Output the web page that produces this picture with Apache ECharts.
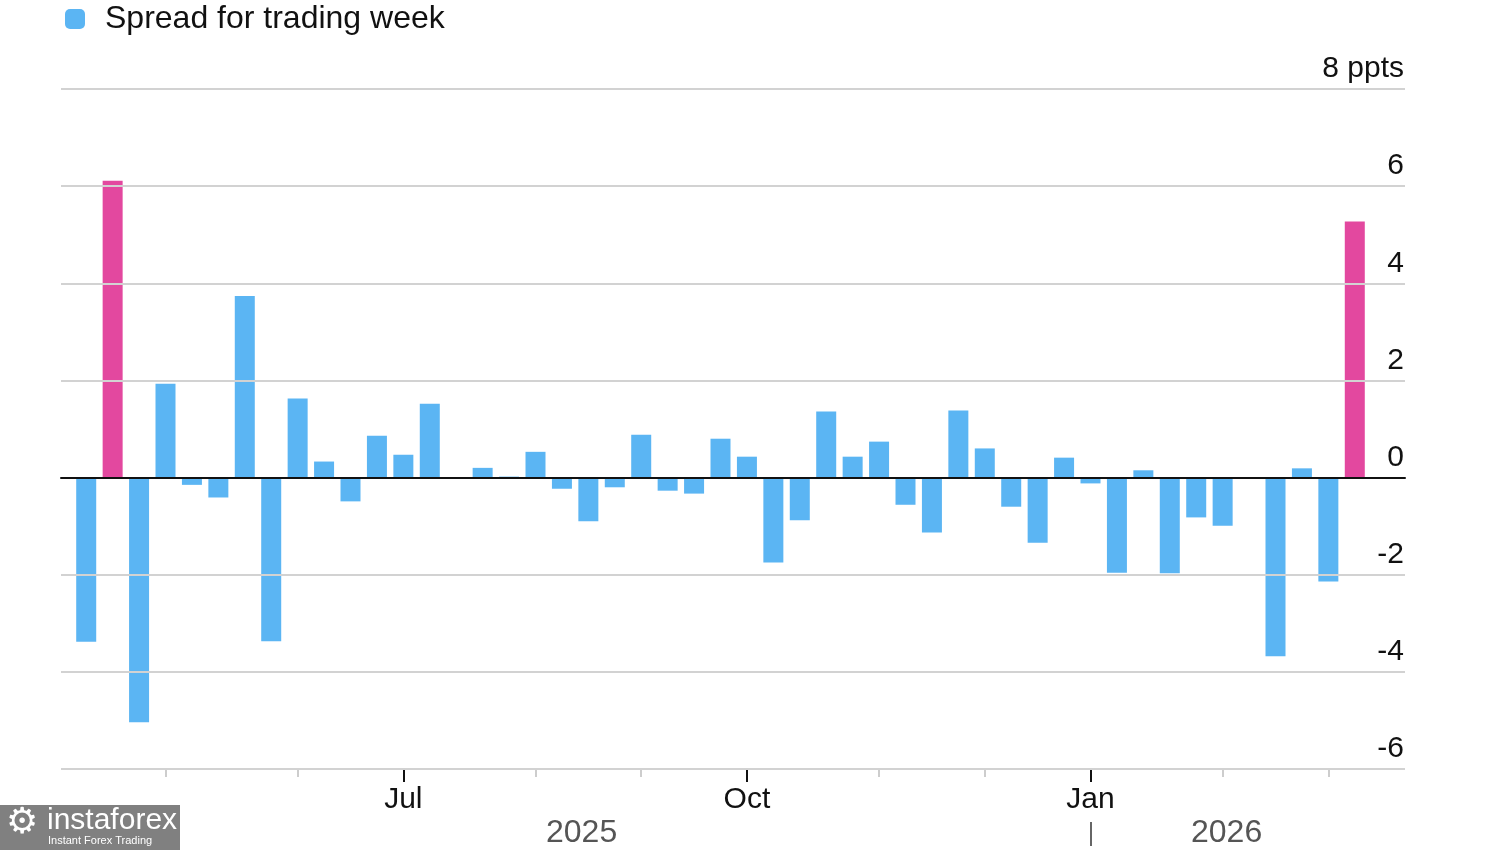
<!DOCTYPE html>
<html>
<head>
<meta charset="utf-8">
<script src="https://cdn.jsdelivr.net/npm/echarts@6/dist/echarts.min.js"></script>
<style>
html,body{margin:0;padding:0;background:#fff;}
#chart{width:1500px;height:850px;}
</style>
</head>
<body>
<div id="chart"></div>
<script>
// ---- data ----
var weeks = [
  "2025-04-11","2025-04-18","2025-04-25","2025-05-02","2025-05-09","2025-05-16","2025-05-23","2025-05-30",
  "2025-06-06","2025-06-13","2025-06-20","2025-06-27","2025-07-04","2025-07-11","2025-07-18","2025-07-25",
  "2025-08-01","2025-08-08","2025-08-15","2025-08-22","2025-08-29","2025-09-05","2025-09-12","2025-09-19",
  "2025-09-26","2025-10-03","2025-10-10","2025-10-17","2025-10-24","2025-10-31","2025-11-07","2025-11-14",
  "2025-11-21","2025-11-28","2025-12-05","2025-12-12","2025-12-19","2025-12-26","2026-01-02","2026-01-09",
  "2026-01-16","2026-01-23","2026-01-30","2026-02-06","2026-02-13","2026-02-20","2026-02-27","2026-03-06",
  "2026-03-13"
];
var spread = [
  -3.38, 6.11, -5.04, 1.93, -0.15, -0.41, 3.74, -3.37,
  1.63, 0.33, -0.49, 0.86, 0.47, 1.52, -0.03, 0.20,
  0.02, 0.53, -0.23, -0.90, -0.20, 0.88, -0.27, -0.33,
  0.80, 0.43, -1.75, -0.88, 1.36, 0.43, 0.74, -0.56,
  -1.13, 1.38, 0.60, -0.60, -1.34, 0.41, -0.12, -1.96,
  0.15, -1.97, -0.82, -0.99, -0.01, -3.68, 0.19, -2.14,
  5.27
];
var highlighted = [1, 48];
var monthTickIdx = [3, 8, 12, 17, 21, 25, 30, 34, 38, 43, 47];
var majorTickIdx = [12, 25, 38];
var majorTickLabels = ["Jul", "Oct", "Jan"];
var yearLabels = ["2025", "2026"];
var yTicks = [-6, -4, -2, 0, 2, 4, 6, 8];
var seriesName = "Spread for trading week";

// ---- chart ----
var FONT = "Liberation Sans, Arial, Helvetica, sans-serif";
var BLUE = "#5bb5f3";
var PINK = "#e3489f";
var Y_MIN = yTicks[0], Y_MAX = yTicks[yTicks.length - 1];

var barData = spread.map(function (v, i) {
  return highlighted.indexOf(i) >= 0 ? { value: v, itemStyle: { color: PINK } } : v;
});

var chart = echarts.init(document.getElementById("chart"), null, { renderer: "canvas" });

var option = {
  animation: false,
  backgroundColor: "#fff",
  textStyle: { fontFamily: FONT },
  legend: {
    show: true,
    left: 60,
    top: -2,
    icon: "roundRect",
    itemWidth: 20,
    itemHeight: 20,
    data: [{ name: seriesName, itemStyle: { color: BLUE } }],
    textStyle: { fontFamily: FONT, fontSize: 32, color: "#111", padding: [0, 0, 0, 15] }
  },
  grid: [
    // grid 0: full-width frame for gridlines, y labels and zero line
    { left: 61, right: 95, top: 89, bottom: 81, containLabel: false },
    // grid 1: inset band range for the weekly bars
    { left: 73, right: 132, top: 89, bottom: 81, containLabel: false }
  ],
  xAxis: [
    {
      // zero line
      type: "value",
      gridIndex: 0,
      min: 0,
      max: 1,
      z: 5,
      axisLine: { show: true, onZero: true, lineStyle: { color: "#111", width: 2 } },
      axisTick: { show: false },
      axisLabel: { show: false },
      splitLine: { show: false }
    },
    {
      type: "category",
      gridIndex: 1,
      data: weeks,
      position: "bottom",
      boundaryGap: true,
      axisLine: { show: false, onZero: false },
      axisTick: {
        show: true,
        alignWithLabel: true,
        interval: function (idx) { return majorTickIdx.indexOf(idx) >= 0; },
        length: 13,
        lineStyle: { color: "#111", width: 2 }
      },
      axisLabel: {
        show: true,
        interval: function (idx) { return majorTickIdx.indexOf(idx) >= 0; },
        formatter: function (val, idx) {
          var k = majorTickIdx.indexOf(idx);
          return k >= 0 ? majorTickLabels[k] : "";
        },
        margin: 16,
        fontFamily: FONT,
        fontSize: 30,
        color: "#111"
      },
      splitLine: { show: false }
    },
    {
      type: "category",
      gridIndex: 1,
      data: weeks,
      position: "bottom",
      boundaryGap: true,
      axisLine: { show: false, onZero: false },
      axisTick: {
        show: true,
        alignWithLabel: true,
        interval: function (idx) {
          return monthTickIdx.indexOf(idx) >= 0 && majorTickIdx.indexOf(idx) < 0;
        },
        length: 8,
        lineStyle: { color: "#bdbdbd", width: 1.5 }
      },
      axisLabel: { show: false },
      splitLine: { show: false }
    }
  ],
  yAxis: [
    {
      type: "value",
      gridIndex: 0,
      position: "right",
      min: Y_MIN,
      max: Y_MAX,
      interval: 2,
      z: 4,
      axisLine: { show: false },
      axisTick: { show: false },
      axisLabel: {
        inside: true,
        margin: 1,
        verticalAlign: "bottom",
        padding: [0, 0, 5, 0],
        fontFamily: FONT,
        fontSize: 30,
        color: "#111",
        formatter: function (v) {
          if (v === Y_MAX) return v + " ppts";
          return String(v);
        }
      },
      splitLine: { show: true, lineStyle: { color: "#d2d2d2", width: 2 } }
    },
    {
      type: "value",
      gridIndex: 1,
      min: Y_MIN,
      max: Y_MAX,
      interval: 2,
      show: false,
      splitLine: { show: false }
    }
  ],
  series: [
    {
      name: seriesName,
      type: "bar",
      xAxisIndex: 1,
      yAxisIndex: 1,
      data: barData,
      barWidth: 20,
      itemStyle: { color: BLUE }
    }
  ],
  graphic: [
    { type: "text", left: 546, top: 817, style: { text: yearLabels[0], font: "32px " + FONT, fill: "#555" } },
    { type: "text", left: 1191, top: 817, style: { text: yearLabels[1], font: "32px " + FONT, fill: "#555" } },
    { type: "rect", shape: { x: 1090, y: 822, width: 2, height: 24 }, style: { fill: "#666" } },
    { type: "rect", shape: { x: 0, y: 805, width: 180, height: 45 }, style: { fill: "#808080" } },
    { type: "text", left: 6, top: 806, style: { text: "\u2699", font: "36px DejaVu Sans", fill: "#fff" } },
    { type: "text", left: 47, top: 806, style: { text: "instaforex", font: "30px Liberation Sans Narrow, Liberation Sans, sans-serif", fill: "#fff" } },
    { type: "text", left: 48, top: 835, style: { text: "Instant Forex Trading", font: "11px " + FONT, fill: "#fff" } }
  ]
};

chart.setOption(option);
</script>
</body>
</html>
